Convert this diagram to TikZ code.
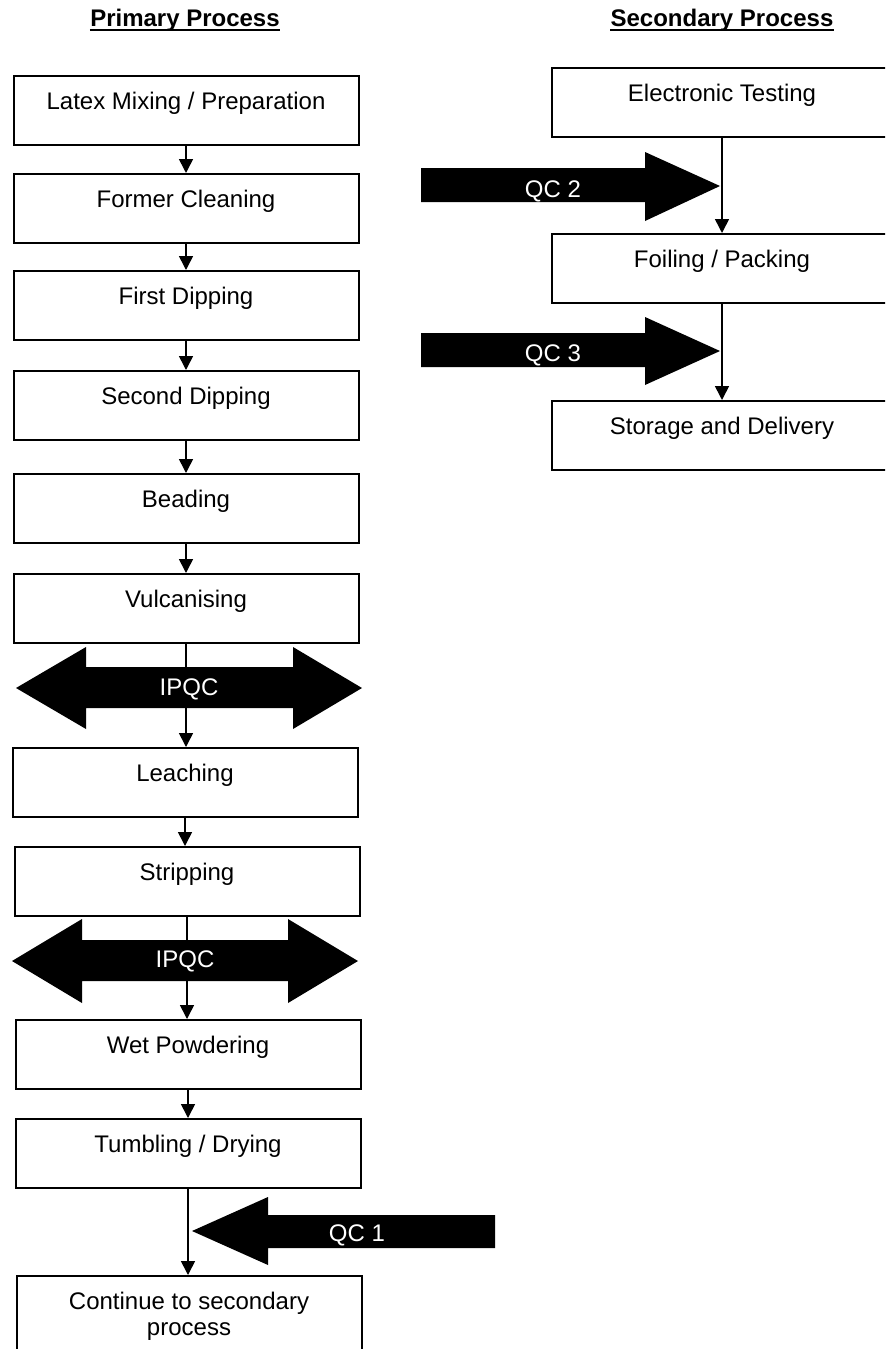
\documentclass[tikz,border=0pt]{standalone}
\usepackage{fontspec}
\setmainfont{Liberation Sans}
\usetikzlibrary{arrows.meta}
\tikzset{
  box/.style={draw, line width=1pt, minimum width=172.5pt, minimum height=34.5pt,
    inner sep=0pt, text height=16.5pt, text depth=18pt, anchor=north,
    font=\fontsize{12pt}{14pt}\selectfont},
  rbox/.style={box, minimum width=170pt},
  conn/.style={line width=0.8pt, -{Triangle[width=7pt,length=7pt]}},
  blk/.style={fill=black},
  blktxt/.style={text=white, font=\fontsize{12pt}{14pt}\selectfont, inner sep=0pt, anchor=base},
  hdr/.style={font=\fontsize{12pt}{14pt}\selectfont\bfseries, anchor=base, inner sep=0pt},
  uline/.style={line width=1pt}
}
\begin{document}
\begin{tikzpicture}[x=0.5pt, y=-0.5pt]
\useasboundingbox (0,0) rectangle (885,1349);
\fill[white] (0,0) rectangle (885,1349);
\clip (0,0) rectangle (885,1349);

% headers
\node[hdr] (h1) at (185,26) {Primary Process};
\draw[uline] ([yshift=-2pt]h1.base west) -- ([yshift=-2pt]h1.base east);
\node[hdr] (h2) at (722,26) {Secondary Process};
\draw[uline] ([yshift=-2pt]h2.base west) -- ([yshift=-2pt]h2.base east);

% primary boxes
\node[box] (b1) at (186,75) {Latex Mixing / Preparation};
\node[box] (b2) at (186,173) {Former Cleaning};
\node[box] (b3) at (186,270) {First Dipping};
\node[box] (b4) at (186,370) {Second Dipping};
\node[box] (b5) at (186,473) {Beading};
\node[box] (b6) at (186,573) {Vulcanising};
\node[box] (b7) at (185,747) {Leaching};
\node[box] (b8) at (187,846) {Stripping};
\node[box] (b9) at (188,1019) {Wet Powdering};
\node[box] (b10) at (188,1118) {Tumbling / Drying};
\node[box, text height=0pt, text depth=0pt, minimum height=45pt] (b11) at (189,1275) {};
\node[anchor=north, inner sep=0pt, align=center, font=\fontsize{12pt}{12.8pt}\selectfont] (b11t) at (189,1292) {Continue to secondary\\process};

% secondary boxes
\node[rbox] (r1) at (722,67) {Electronic Testing};
\node[rbox] (r2) at (722,233) {Foiling / Packing};
\node[rbox] (r3) at (722,400) {Storage and Delivery};

% connectors
\draw[conn] (b1.south) -- (b1.south |- b2.north);
\draw[conn] (b2.south) -- (b2.south |- b3.north);
\draw[conn] (b3.south) -- (b3.south |- b4.north);
\draw[conn] (b4.south) -- (b4.south |- b5.north);
\draw[conn] (b5.south) -- (b5.south |- b6.north);
\draw[conn] (b6.south) -- (b6.south |- b7.north);
\draw[conn] (b7.south) -- (b7.south |- b8.north);
\draw[conn] (b8.south) -- (b8.south |- b9.north);
\draw[conn] (b9.south) -- (b9.south |- b10.north);
\draw[conn] (b10.south) -- (b10.south |- b11.north);
\draw[conn] (r1.south) -- (r1.south |- r2.north);
\draw[conn] (r2.south) -- (r2.south |- r3.north);

% IPQC block arrows
\fill[blk] (16,688) -- (86,647) -- (86,667) -- (293,667) -- (293,647) -- (362,688)
  -- (293,729) -- (293,708) -- (86,708) -- (86,729) -- cycle;
\node[blktxt] (ipqc1) at (189,695) {IPQC};
\fill[blk] (12,961) -- (82,919) -- (82,940) -- (288,940) -- (288,919) -- (358,961)
  -- (288,1003) -- (288,981) -- (82,981) -- (82,1003) -- cycle;
\node[blktxt] (ipqc2) at (185,967) {IPQC};

% QC block arrows
\fill[blk] (192,1231) -- (268,1197) -- (268,1215) -- (495,1215) -- (495,1248)
  -- (268,1248) -- (268,1265) -- cycle;
\node[blktxt] (qc1) at (357,1241) {QC 1};
\fill[blk] (421,168) -- (645,168) -- (645,152) -- (720,186) -- (645,221)
  -- (645,202) -- (421,202) -- cycle;
\node[blktxt] (qc2) at (553,197) {QC 2};
\fill[blk] (421,333) -- (645,333) -- (645,317) -- (720,351) -- (645,385)
  -- (645,367) -- (421,367) -- cycle;
\node[blktxt] (qc3) at (553,361) {QC 3};
\end{tikzpicture}
\end{document}
